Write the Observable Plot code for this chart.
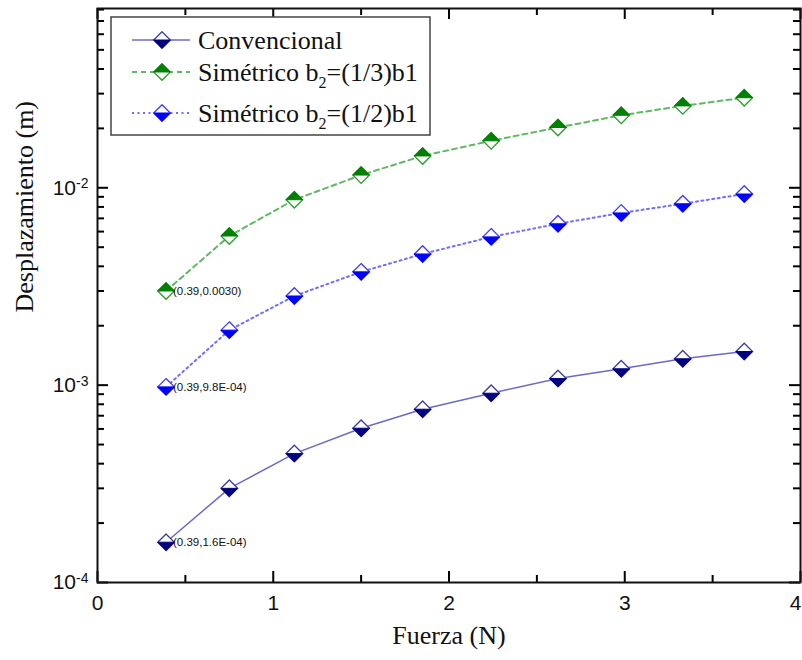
<!DOCTYPE html>
<html><head><meta charset="utf-8">
<script src="https://cdn.jsdelivr.net/npm/d3@7"></script>
<script src="https://cdn.jsdelivr.net/npm/@observablehq/plot@0.6"></script>
<style>
body{margin:0;background:#fff;}
#wrap{position:relative;width:802px;height:660px;}
</style></head><body><div id="wrap"></div>
<script>
// ---- data ----
const force = [0.39, 0.75, 1.12, 1.50, 1.85, 2.24, 2.62, 2.98, 3.33, 3.68];
const convencional = [1.6e-4, 3.0e-4, 4.5e-4, 6.05e-4, 7.55e-4, 9.1e-4, 1.08e-3, 1.21e-3, 1.36e-3, 1.48e-3];
const simetrico13 = [3.0e-3, 5.7e-3, 8.7e-3, 1.16e-2, 1.45e-2, 1.73e-2, 2.02e-2, 2.33e-2, 2.6e-2, 2.86e-2];
const simetrico12 = [9.8e-4, 1.9e-3, 2.83e-3, 3.75e-3, 4.62e-3, 5.64e-3, 6.57e-3, 7.46e-3, 8.3e-3, 9.3e-3];
const seriesNames = ["Convencional", "Simétrico b2=(1/3)b1", "Simétrico b2=(1/2)b1"];
const pointLabels = ["(0.39,1.6E-04)", "(0.39,0.0030)", "(0.39,9.8E-04)"];
const xTicks = [0, 1, 2, 3, 4];
const xMinorTicks = [0.5, 1.5, 2.5, 3.5];
const yTicks = [1e-4, 1e-3, 1e-2];
const yMinorTicks = [2e-4,3e-4,4e-4,5e-4,6e-4,7e-4,8e-4,9e-4,2e-3,3e-3,4e-3,5e-3,6e-3,7e-3,8e-3,9e-3,2e-2,3e-2,4e-2,5e-2,6e-2,7e-2,8e-2];
const xDomain = [0, 4];
const yDomain = [1e-4, 0.081];
const xTitle = "Fuerza (N)";
const yTitle = "Desplazamiento (m)";

// ---- styles ----
const styles = [
  {line: "#6b6bc4", width: 1.5, dash: null, outline: "#3c3ca0", fill: "#000080", half: "bottom"},
  {line: "#62b862", width: 2, dash: "5,4", outline: "#2e9a2e", fill: "#008000", half: "top"},
  {line: "#6e6eff", width: 2, dash: "2,3.5", outline: "#3a3aff", fill: "#0000ff", half: "bottom"}
];
const seriesValues = [convencional, simetrico13, simetrico12];
const rows = seriesValues.map((vals, i) => force.map((f, j) => ({series: seriesNames[i], x: f, y: vals[j]})));
const firstPoints = rows.map((r, i) => ({...r[0], label: pointLabels[i]}));

function rad(size) { return Math.sqrt(size / Math.PI); }
const diamondFull = {draw(c, s) { const r = rad(s); c.moveTo(0, -r); c.lineTo(r, 0); c.lineTo(0, r); c.lineTo(-r, 0); c.closePath(); }};
const diamondBottom = {draw(c, s) { const r = rad(s); c.moveTo(-r, 0); c.lineTo(r, 0); c.lineTo(0, r); c.closePath(); }};
const diamondTop = {draw(c, s) { const r = rad(s); c.moveTo(-r, 0); c.lineTo(r, 0); c.lineTo(0, -r); c.closePath(); }};

const W = 802, H = 660, mL = 97, mR = 2, mT = 8, mB = 78;
const fw = W - mL - mR, fh = H - mT - mB;
const majLen = 11, minLen = 7;
const serif = "Liberation Serif, Times New Roman, serif";

const marks = [];
rows.forEach((r, i) => {
  const s = styles[i];
  marks.push(Plot.line(r, {x: "x", y: "y", stroke: s.line, strokeWidth: s.width, strokeDasharray: s.dash}));
});
rows.forEach((r, i) => {
  const s = styles[i];
  marks.push(Plot.dot(r, {x: "x", y: "y", symbol: diamondFull, r: 8.3, fill: "white", stroke: s.outline, strokeWidth: 1.3}));
  marks.push(Plot.dot(r, {x: "x", y: "y", symbol: s.half === "bottom" ? diamondBottom : diamondTop, r: 8.3, fill: s.fill, stroke: s.fill, strokeWidth: 1}));
});
marks.push(Plot.text(firstPoints, {x: "x", y: "y", text: "label", textAnchor: "start", dx: 7, fontSize: 11.5, fill: "#111"}));

// ticks (inward, on all four sides)
marks.push(Plot.ruleX(xTicks, {x: d => d, insetTop: fh - majLen, strokeWidth: 2}));
marks.push(Plot.ruleX(xTicks, {x: d => d, insetBottom: fh - majLen, strokeWidth: 2}));
marks.push(Plot.ruleX(xMinorTicks, {x: d => d, insetTop: fh - minLen, strokeWidth: 2}));
marks.push(Plot.ruleX(xMinorTicks, {x: d => d, insetBottom: fh - minLen, strokeWidth: 2}));
marks.push(Plot.ruleY(yTicks, {y: d => d, insetRight: fw - majLen, strokeWidth: 2}));
marks.push(Plot.ruleY(yTicks, {y: d => d, insetLeft: fw - majLen, strokeWidth: 2}));
marks.push(Plot.ruleY(yMinorTicks, {y: d => d, insetRight: fw - minLen, strokeWidth: 2}));
marks.push(Plot.ruleY(yMinorTicks, {y: d => d, insetLeft: fw - minLen, strokeWidth: 2}));
marks.push(Plot.frame({stroke: "#111", strokeWidth: 2}));

// tick labels
const xLabelOpts = {tickSize: 0, tickPadding: 13, fontSize: 21, label: null, fill: "#111", tickFormat: d => String(d)};
marks.push(Plot.axisX(xTicks.slice(0, -1), xLabelOpts));
marks.push(Plot.axisX(xTicks.slice(-1), {...xLabelOpts, dx: -5}));
marks.push(Plot.axisY(yTicks, {tickSize: 0, tickPadding: 9, fontSize: 21, label: null, fill: "#111",
  tickFormat: d => "10^" + Math.round(Math.log10(d))}));

// axis titles
marks.push(Plot.text([xTitle], {frameAnchor: "bottom", dy: 53, lineAnchor: "middle", fontSize: 26, fontFamily: serif, fill: "#111"}));
marks.push(Plot.text([yTitle], {frameAnchor: "left", dx: -73, dy: 17, rotate: -90, lineAnchor: "middle", fontSize: 26, fontFamily: serif, fill: "#111"}));

const chart = Plot.plot({
  width: W, height: H,
  marginLeft: mL, marginRight: mR, marginTop: mT, marginBottom: mB,
  style: {fontFamily: "Liberation Sans, Arial, sans-serif", background: "white", overflow: "visible"},
  x: {domain: xDomain},
  y: {type: "log", domain: yDomain},
  marks
});
document.getElementById("wrap").appendChild(chart);

// superscripts on y tick labels
d3.select(chart).selectAll("text").each(function() {
  const t = this.textContent;
  const m = /^10\^(-?\d+)$/.exec(t);
  if (m) {
    const sel = d3.select(this);
    sel.text("10");
    sel.append("tspan").attr("dy", "-0.45em").attr("font-size", 14).text(m[1]);
  }
});

// legend overlay
const leg = d3.select("#wrap").append("svg")
  .attr("width", W).attr("height", H)
  .style("position", "absolute").style("left", "0px").style("top", "0px");
leg.append("rect").attr("x", 111).attr("y", 17).attr("width", 319).attr("height", 118)
  .attr("fill", "white").attr("stroke", "#444").attr("stroke-width", 1.5);
const rowY = [40, 72, 113];
const diamondPath = (cx, cy, r) => `M${cx},${cy - r}L${cx + r},${cy}L${cx},${cy + r}L${cx - r},${cy}Z`;
const halfPath = (cx, cy, r, half) => half === "bottom"
  ? `M${cx - r},${cy}L${cx + r},${cy}L${cx},${cy + r}Z`
  : `M${cx - r},${cy}L${cx + r},${cy}L${cx},${cy - r}Z`;
seriesNames.forEach((name, i) => {
  const s = styles[i], y = rowY[i];
  leg.append("line").attr("x1", 132).attr("x2", 190).attr("y1", y).attr("y2", y)
    .attr("stroke", s.line).attr("stroke-width", s.width).attr("stroke-dasharray", s.dash);
  leg.append("path").attr("d", diamondPath(162, y, 8.3)).attr("fill", "white").attr("stroke", s.outline).attr("stroke-width", 1.3);
  leg.append("path").attr("d", halfPath(162, y, 8.3, s.half)).attr("fill", s.fill).attr("stroke", s.fill);
  const t = leg.append("text").attr("x", 198).attr("y", y + 8.5)
    .attr("font-family", serif).attr("font-size", 26).attr("fill", "#111");
  const m = /^(.*b)2(=.*)$/.exec(name);
  if (m) {
    t.append("tspan").text(m[1]);
    t.append("tspan").attr("dy", 7).attr("font-size", 16).text("2");
    t.append("tspan").attr("dy", -7).text(m[2]);
  } else {
    t.text(name);
  }
});
</script>
</body></html>
